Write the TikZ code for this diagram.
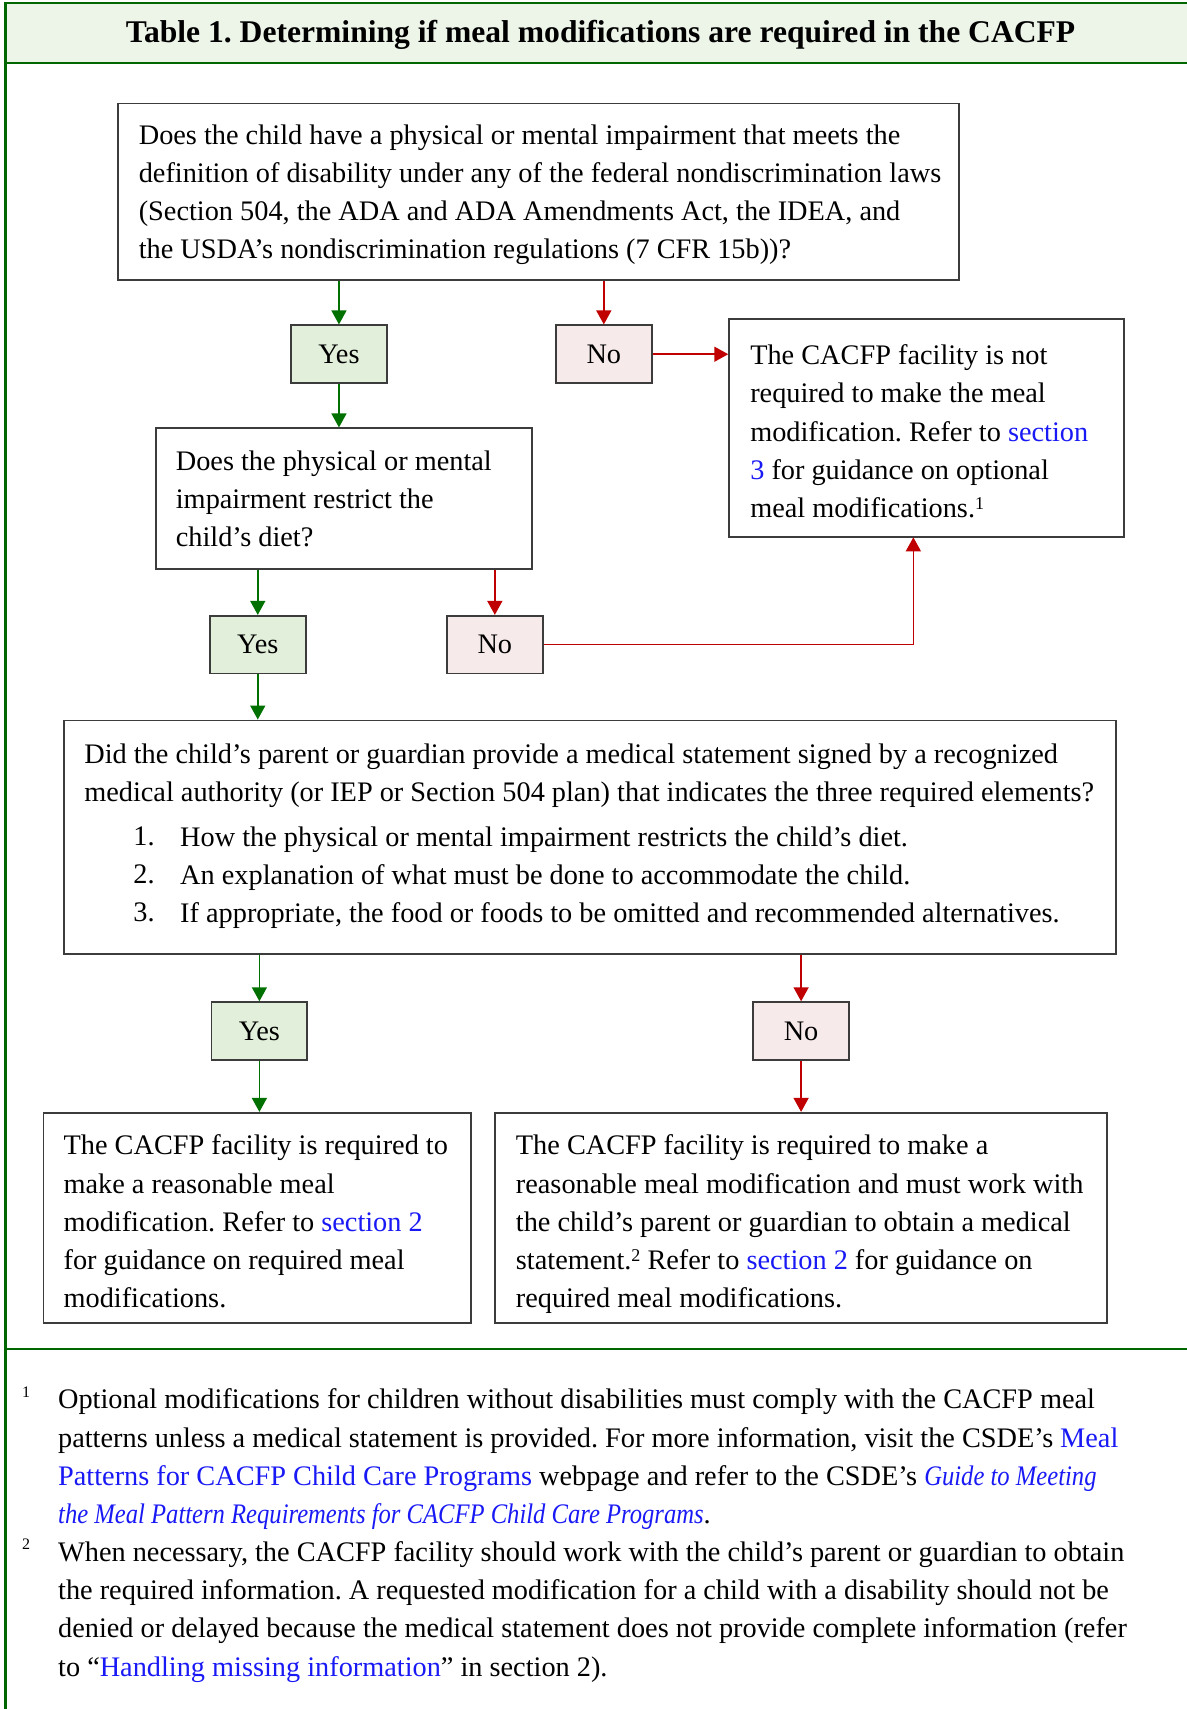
\documentclass[tikz,border=0pt]{standalone}
\usepackage{fontspec}
\setmainfont{Liberation Serif}
\newfontfamily\narrowfam{Liberation Serif}[FakeStretch=0.87]
\usetikzlibrary{arrows.meta}
\definecolor{frameG}{RGB}{0,102,0}
\definecolor{headG}{RGB}{237,245,233}
\definecolor{yesF}{RGB}{226,239,218}
\definecolor{noF}{RGB}{247,234,234}
\definecolor{boxL}{RGB}{60,60,60}
\definecolor{arrG}{RGB}{0,112,0}
\definecolor{arrR}{RGB}{192,0,0}
\definecolor{linkB}{RGB}{25,25,245}
\newcommand{\lnk}[1]{\textcolor{linkB}{#1}}
\newcommand{\itlnk}[1]{\textcolor{linkB}{\narrowfam\itshape #1}}
\newcommand{\sups}[1]{\raisebox{0.3em}{\fontsize{9}{9}\selectfont #1}}
\newcommand{\bodyfont}{\fontsize{14.15}{19.1}\selectfont}
\newcommand{\titlefont}{\fontsize{15.8}{18}\selectfont\bfseries}
\frenchspacing
\begin{document}
\frenchspacing
\begin{tikzpicture}[x=0.545pt,y=-0.545pt,
  box/.style={draw=boxL, line width=0.9pt, rectangle, inner sep=0pt, fill=white},
  yesbox/.style={box, fill=yesF, minimum width=88*0.545pt, minimum height=53*0.545pt, font=\bodyfont},
  nobox/.style={box, fill=noF, minimum width=88*0.545pt, minimum height=53*0.545pt, font=\bodyfont},
  txt/.style={anchor=north west, inner sep=0pt, align=left, font=\bodyfont\frenchspacing},
  garr/.style={draw=arrG, line width=0.75pt, -{Triangle[width=7.5pt,length=7pt]}},
  rarr/.style={draw=arrR, line width=0.75pt, -{Triangle[width=7.5pt,length=7pt]}},
  fnmark/.style={anchor=north west, inner sep=0pt, font=\fontsize{8}{9}\selectfont}
]
\useasboundingbox (0,0) rectangle (1089,1568);
% frame
\fill[headG] (5,3) rectangle (1089,58);
\draw[frameG, line width=1.1pt] (1089,3) -- (5,3) -- (5,1568);
\draw[frameG, line width=1.1pt] (5,58) -- (1089,58);
\draw[frameG, line width=1.1pt] (5,1238) -- (1089,1238);
\node[font=\titlefont\frenchspacing, inner sep=0pt] (title) at (551,32) {Table 1. Determining if meal modifications are required in the CACFP};

% boxes
\node[box, minimum width=772*0.545pt, minimum height=162*0.545pt] (A) at (494,176) {};
\node[yesbox] (Y1) at (311,325) {Yes};
\node[nobox] (N1) at (554,325) {No};
\node[box, minimum width=362*0.545pt, minimum height=200*0.545pt] (B) at (850,393) {};
\node[box, minimum width=345*0.545pt, minimum height=129*0.545pt] (C) at (315.5,457.5) {};
\node[yesbox] (Y2) at (236.5,591.5) {Yes};
\node[nobox] (N2) at (454,591.5) {No};
\node[box, minimum width=965*0.545pt, minimum height=214*0.545pt] (D) at (541.5,768) {};
\node[yesbox] (Y3) at (238,946) {Yes};
\node[nobox] (N3) at (735,946) {No};
\node[box, minimum width=392*0.545pt, minimum height=193*0.545pt] (E) at (236,1117.5) {};
\node[box, minimum width=562*0.545pt, minimum height=193*0.545pt] (F) at (735,1117.5) {};

% texts
\node[txt] (tA) at (127,114) {Does the child have a physical or mental impairment that meets the\\
definition of disability under any of the federal nondiscrimination laws\\
(Section 504, the ADA and ADA Amendments Act, the IDEA, and\\
the USDA’s nondiscrimination regulations (7 CFR 15b))?};
\node[txt] (tB) at (688,316) {The CACFP facility is not\\
required to make the meal\\
modification. Refer to \lnk{section}\\
\lnk{3} for guidance on optional\\
meal modifications.\sups{1}};
\node[txt] (tC) at (161,413) {Does the physical or mental\\
impairment restrict the\\
child’s diet?};
\node[txt] (tD) at (77,682) {Did the child’s parent or guardian provide a medical statement signed by a recognized\\
medical authority (or IEP or Section 504 plan) that indicates the three required elements?};
\node[txt] (tDn) at (122,758) {1.\\2.\\3.};
\node[txt] (tDi) at (165,758) {How the physical or mental impairment restricts the child’s diet.\\
An explanation of what must be done to accommodate the child.\\
If appropriate, the food or foods to be omitted and recommended alternatives.};
\node[txt] (tE) at (58,1041) {The CACFP facility is required to\\
make a reasonable meal\\
modification. Refer to \lnk{section 2}\\
for guidance on required meal\\
modifications.};
\node[txt] (tF) at (473,1041) {The CACFP facility is required to make a\\
reasonable meal modification and must work with\\
the child’s parent or guardian to obtain a medical\\
statement.\sups{2} Refer to \lnk{section 2} for guidance on\\
required meal modifications.};

% footnotes
\node[fnmark] (m1) at (20,1272) {1};
\node[txt] (fn1) at (53,1274) {Optional modifications for children without disabilities must comply with the CACFP meal\\
patterns unless a medical statement is provided. For more information, visit the CSDE’s \lnk{Meal}\\
\lnk{Patterns for CACFP Child Care Programs} webpage and refer to the CSDE’s \itlnk{Guide to Meeting}\\
\itlnk{the Meal Pattern Requirements for CACFP Child Care Programs}.};
\node[fnmark] (m2) at (20,1412) {2};
\node[txt] (fn2) at (53,1414) {When necessary, the CACFP facility should work with the child’s parent or guardian to obtain\\
the required information. A requested modification for a child with a disability should not be\\
denied or delayed because the medical statement does not provide complete information (refer\\
to “\lnk{Handling missing information}” in section 2).};

% connectors
\draw[garr] (Y1.north |- A.south) -- (Y1.north);
\draw[rarr] (N1.north |- A.south) -- (N1.north);
\draw[rarr] (N1.east) -- (N1.east -| B.west);
\draw[garr] (Y1.south) -- (Y1.south |- C.north);
\draw[garr] (Y2.north |- C.south) -- (Y2.north);
\draw[rarr] (N2.north |- C.south) -- (N2.north);
\coordinate (Bin) at (838,493);
\draw[rarr] (N2.east) -| (Bin);
\draw[garr] (Y2.south) -- (Y2.south |- D.north);
\draw[garr] (Y3.north |- D.south) -- (Y3.north);
\draw[rarr] (N3.north |- D.south) -- (N3.north);
\draw[garr] (Y3.south) -- (Y3.south |- E.north);
\draw[rarr] (N3.south) -- (N3.south |- F.north);
\end{tikzpicture}
\end{document}
